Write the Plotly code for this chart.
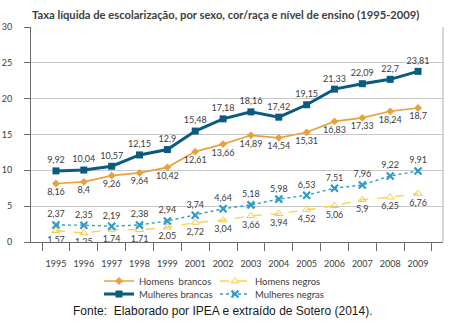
import plotly.graph_objects as go

# Taxa líquida de escolarização (PNAD, sem 2000)
anos = ["1995", "1996", "1997", "1998", "1999", "2001", "2002", "2003",
        "2004", "2005", "2006", "2007", "2008", "2009"]
homens_brancos = [8.16, 8.4, 9.26, 9.64, 10.42, 12.61, 13.66, 14.89,
                  14.54, 15.31, 16.83, 17.33, 18.24, 18.7]
mulheres_brancas = [9.92, 10.04, 10.57, 12.15, 12.9, 15.48, 17.18, 18.16,
                    17.42, 19.15, 21.33, 22.09, 22.7, 23.81]
homens_negros = [1.57, 1.25, 1.74, 1.71, 2.05, 2.72, 3.04, 3.66,
                 3.94, 4.52, 5.06, 5.9, 6.25, 6.76]
mulheres_negras = [2.37, 2.35, 2.19, 2.38, 2.94, 3.74, 4.64, 5.18,
                   5.98, 6.53, 7.51, 7.96, 9.22, 9.91]
y_ticks = [0, 5, 10, 15, 20, 25, 30]

FONT = "Lato"
TXT = "#3c3c3c"

# área do gráfico em pixels
L, R, T, B = 31, 443, 27, 242
PW, PH = R - L, B - T


def px_x(p):
    return (p - L) / PW


def px_y(p):
    return (B - p) / PH


def rotulos(vals):
    return [f"{v:g}".replace(".", ",") for v in vals]


fig = go.Figure()

fig.add_trace(go.Scatter(
    x=anos, y=homens_brancos, name="Homens  brancos", mode="lines+markers+text",
    line=dict(color="#E9A23B", width=1.7),
    marker=dict(symbol="diamond", size=6, color="#E9A23B"),
    text=rotulos(homens_brancos), textposition="bottom center",
    textfont=dict(family=FONT, size=9, color=TXT), legend="legend"))

fig.add_trace(go.Scatter(
    x=anos, y=mulheres_brancas, name="Mulheres brancas", mode="lines+markers+text",
    line=dict(color="#0B5B80", width=3),
    marker=dict(symbol="square", size=7, color="#0B5B80"),
    text=rotulos(mulheres_brancas), textposition="top center",
    textfont=dict(family=FONT, size=9, color=TXT), legend="legend3"))

fig.add_trace(go.Scatter(
    x=anos, y=homens_negros, name="Homens negros", mode="lines+markers+text",
    line=dict(color="#FDD34D", width=1.4, dash="dash"),
    marker=dict(symbol="triangle-up-open", size=7, color="#F8C84A",
                line=dict(width=1)),
    text=rotulos(homens_negros), textposition="bottom center",
    textfont=dict(family=FONT, size=9, color=TXT), legend="legend2"))

fig.add_trace(go.Scatter(
    x=anos, y=mulheres_negras, name="Mulheres negras", mode="lines+markers+text",
    line=dict(color="#2E9BC9", width=1.4, dash="dot"),
    marker=dict(symbol="x-thin-open", size=7, color="#2E9BC9",
                line=dict(width=2.2, color="#2E9BC9")),
    text=rotulos(mulheres_negras), textposition="top center",
    textfont=dict(family=FONT, size=9, color=TXT), legend="legend4"))

legend_style = dict(xref="paper", yref="paper", xanchor="left", yanchor="middle",
                    orientation="v", font=dict(family=FONT, size=9.5, color=TXT),
                    bgcolor="rgba(0,0,0,0)", itemwidth=30, tracegroupgap=0)

COL1, COL2 = 99, 215
ROW1, ROW2 = 281, 294

fig.update_layout(
    width=457, height=323,
    margin=dict(l=L, r=457 - R, t=T, b=323 - B, autoexpand=False),
    paper_bgcolor="white", plot_bgcolor="white",
    font=dict(family=FONT, size=9, color=TXT),
    showlegend=True,
    title=dict(text="<b>Taxa líquida de escolarização, por sexo, cor/raça e nível de ensino (1995-2009)</b>",
               x=32 / 457, xanchor="left", y=1 - 15 / 323, yanchor="middle",
               font=dict(family=FONT, size=11.2, color="#404040")),
    legend=dict(x=px_x(COL1), y=px_y(ROW1), **legend_style),
    legend2=dict(x=px_x(COL2), y=px_y(ROW1), **legend_style),
    legend3=dict(x=px_x(COL1), y=px_y(ROW2), **legend_style),
    legend4=dict(x=px_x(COL2), y=px_y(ROW2), **legend_style),
    xaxis=dict(type="category", tickson="boundaries", ticks="outside",
               ticklen=8, tickcolor="#6a6a6a", showline=True,
               linecolor="#6a6a6a", linewidth=1, showgrid=False,
               tickangle=0,
               tickfont=dict(family=FONT, size=9, color=TXT),
               ticklabelstandoff=13),
    yaxis=dict(range=[0, 30], tickvals=y_ticks, ticks="outside", ticklen=6,
               tickcolor="#6a6a6a", showline=True, linecolor="#6a6a6a",
               linewidth=1, showgrid=True, gridcolor="#c8c8c8", gridwidth=1,
               zeroline=False, tickfont=dict(family=FONT, size=9, color=TXT),
               ticklabelstandoff=10),
)

# borda direita da área do gráfico
fig.add_shape(type="line", xref="paper", yref="paper", x0=1, x1=1, y0=0, y1=1,
              line=dict(color="#b0b0b0", width=1))

fig.add_annotation(
    text="Fonte:  Elaborado por IPEA e extraído de Sotero (2014).",
    xref="paper", yref="paper", x=px_x(223), y=px_y(311),
    xanchor="center", yanchor="middle", showarrow=False,
    font=dict(family="Liberation Sans", size=12, color="#1a1a1a"))

fig.write_html("out.html")
